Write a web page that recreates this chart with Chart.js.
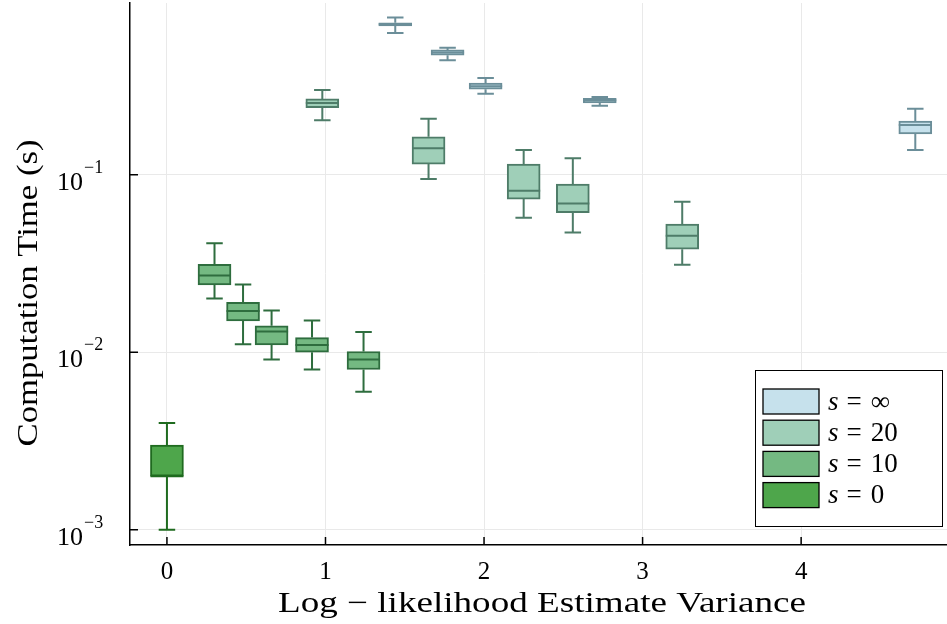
<!DOCTYPE html>
<html>
<head>
<meta charset="utf-8">
<script src="https://cdn.jsdelivr.net/npm/chart.js@4/dist/chart.umd.min.js"></script>
<style>
  html, body { margin: 0; padding: 0; background: #fff; }
  canvas { display: block; }
</style>
</head>
<body>
<canvas id="chart" width="947" height="624"></canvas>
<script>
// box plot data: x position, whisker low, q1, median, q3, whisker high
const labels = ['∞', '20', '10', '0'];

const xInf   = [1.44, 1.77, 2.01, 2.73, 4.72];
const loInf  = [0.63, 0.443, 0.286, 0.245, 0.138];
const q1Inf  = [0.69, 0.472, 0.304, 0.254, 0.170];
const medInf = [0.705, 0.49, 0.316, 0.263, 0.191];
const q3Inf  = [0.72, 0.506, 0.329, 0.270, 0.201];
const hiInf  = [0.77, 0.52, 0.351, 0.275, 0.236];

const x20   = [0.98, 1.65, 2.25, 2.56, 3.25];
const lo20  = [0.203, 0.0946, 0.0573, 0.0473, 0.0311];
const q120  = [0.239, 0.115, 0.073, 0.0613, 0.0381];
const med20 = [0.254, 0.141, 0.0813, 0.0689, 0.0453];
const q320  = [0.268, 0.164, 0.115, 0.0886, 0.0527];
const hi20  = [0.301, 0.207, 0.138, 0.124, 0.0705];

const x10   = [0.30, 0.48, 0.66, 0.915, 1.24];
const lo10  = [0.0201, 0.0111, 0.0091, 0.0080, 0.0060];
const q110  = [0.0240, 0.0150, 0.0110, 0.0100, 0.0080];
const med10 = [0.0271, 0.0171, 0.0131, 0.0110, 0.0091];
const q310  = [0.0313, 0.0191, 0.0141, 0.0121, 0.0101];
const hi10  = [0.0412, 0.0241, 0.0172, 0.0151, 0.0130];

const x0   = [0.0];
const lo0  = [0.001];
const q10  = [0.002];
const med0 = [0.002];
const q30  = [0.003];
const hi0  = [0.004];

const xTicks = [0, 1, 2, 3, 4];
const yTicks = [0.001, 0.01, 0.1];
const yExps  = ['−3', '−2', '−1'];

const series = [
  { label: labels[0], x: xInf, lo: loInf, q1: q1Inf, med: medInf, q3: q3Inf, hi: hiInf, fill: '#c6e1ec', edge: '#6b8e99' },
  { label: labels[1], x: x20,  lo: lo20,  q1: q120,  med: med20,  q3: q320,  hi: hi20,  fill: '#9fcfb8', edge: '#4e7c68' },
  { label: labels[2], x: x10,  lo: lo10,  q1: q110,  med: med10,  q3: q310,  hi: hi10,  fill: '#74b982', edge: '#2e6d3e' },
  { label: labels[3], x: x0,   lo: lo0,   q1: q10,   med: med0,   q3: q30,   hi: hi0,   fill: '#4ea64b', edge: '#1f6b1f' }
];

const SERIF = '"Liberation Serif", "DejaVu Serif", serif';
const BOX_W = 33;

// whiskers, caps and medians on top of the floating bars
const whiskers = {
  id: 'whiskers',
  afterDatasetsDraw(chart) {
    const { ctx, scales: { x, y } } = chart;
    series.forEach(s => {
      ctx.save();
      ctx.strokeStyle = s.edge;
      ctx.lineWidth = 2;
      s.x.forEach((v, i) => {
        const cx = x.getPixelForValue(v), half = BOX_W / 2, cap = BOX_W / 4;
        const pLo = y.getPixelForValue(s.lo[i]), pQ1 = y.getPixelForValue(s.q1[i]);
        const pMed = y.getPixelForValue(s.med[i]), pQ3 = y.getPixelForValue(s.q3[i]);
        const pHi = y.getPixelForValue(s.hi[i]);
        ctx.beginPath();
        ctx.moveTo(cx, pHi); ctx.lineTo(cx, pQ3);
        ctx.moveTo(cx, pQ1); ctx.lineTo(cx, pLo);
        ctx.moveTo(cx - cap, pHi); ctx.lineTo(cx + cap, pHi);
        ctx.moveTo(cx - cap, pLo); ctx.lineTo(cx + cap, pLo);
        ctx.moveTo(cx - half, pMed); ctx.lineTo(cx + half, pMed);
        ctx.stroke();
      });
      ctx.restore();
    });
  }
};

function fitText(ctx, text, cx, cy, width) {
  const w = ctx.measureText(text).width;
  ctx.save();
  ctx.translate(cx, cy);
  ctx.scale(width / w, 1);
  ctx.fillText(text, 0, 0);
  ctx.restore();
}

// inner tick marks, tick labels, axis titles and the legend box
const decorations = {
  id: 'decorations',
  afterDraw(chart) {
    const { ctx, chartArea: a, scales: { x, y } } = chart;
    ctx.save();
    ctx.strokeStyle = '#000';
    ctx.lineWidth = 1.5;
    ctx.beginPath();
    xTicks.forEach(v => { const px = x.getPixelForValue(v); ctx.moveTo(px, a.bottom); ctx.lineTo(px, a.bottom - 8); });
    yTicks.forEach(v => { const py = y.getPixelForValue(v); ctx.moveTo(a.left, py); ctx.lineTo(a.left + 8, py); });
    ctx.stroke();

    ctx.fillStyle = '#000';
    ctx.font = '25px ' + SERIF;
    ctx.textAlign = 'center';
    ctx.textBaseline = 'alphabetic';
    xTicks.forEach(v => ctx.fillText(String(v), x.getPixelForValue(v), 579));

    yTicks.forEach((v, i) => {
      const py = y.getPixelForValue(v);
      ctx.font = '26px ' + SERIF;
      ctx.textAlign = 'right';
      ctx.fillText('10', 83, py + 15);
      ctx.font = '18px ' + SERIF;
      ctx.textAlign = 'left';
      ctx.fillText(yExps[i], 84, py - 2);
    });

    ctx.font = '29px ' + SERIF;
    ctx.textAlign = 'center';
    fitText(ctx, 'Log − likelihood Estimate Variance', 542, 612, 528);
    ctx.save();
    ctx.translate(37, 293);
    ctx.rotate(-Math.PI / 2);
    fitText(ctx, 'Computation Time (s)', 0, 0, 307);
    ctx.restore();

    // legend
    const L = { left: 755, top: 370, w: 187, h: 156 };
    ctx.fillStyle = '#fff';
    ctx.fillRect(L.left, L.top, L.w, L.h);
    ctx.lineWidth = 1;
    ctx.strokeRect(L.left + 0.5, L.top + 0.5, L.w, L.h);
    series.forEach((s, i) => {
      const cy = 401.5 + i * 31.2;
      ctx.fillStyle = s.fill;
      ctx.fillRect(763, cy - 12.5, 56, 25);
      ctx.strokeStyle = '#000';
      ctx.lineWidth = 1.3;
      ctx.strokeRect(763, cy - 12.5, 56, 25);
      ctx.fillStyle = '#000';
      ctx.textAlign = 'left';
      ctx.textBaseline = 'middle';
      ctx.font = 'italic 27px ' + SERIF;
      ctx.fillText('s', 828, cy + 1);
      let px = 828 + ctx.measureText('s').width + 8;
      ctx.font = '27px ' + SERIF;
      ctx.fillText('=', px, cy + 1);
      px += ctx.measureText('=').width + 9;
      ctx.fillText(s.label, px, cy + 1);
    });
    ctx.restore();
  }
};

new Chart(document.getElementById('chart'), {
  type: 'bar',
  data: {
    datasets: series.map(s => ({
      label: 's = ' + s.label,
      data: s.x.map((v, i) => ({ x: v, y: [s.q1[i], s.q3[i]] })),
      backgroundColor: s.fill,
      borderColor: s.edge,
      borderWidth: 2,
      borderSkipped: false,
      barThickness: BOX_W,
      grouped: false
    }))
  },
  options: {
    responsive: false,
    animation: false,
    layout: { padding: { left: 130, top: 3, right: 0, bottom: 79 } },
    plugins: { legend: { display: false }, tooltip: { enabled: false } },
    scales: {
      x: {
        type: 'linear', min: -0.233, max: 4.92, offset: false,
        grid: { color: '#e9e9e9', drawTicks: false, offset: false },
        border: { color: '#000', width: 1.5 },
        ticks: { display: false },
        afterBuildTicks: ax => { ax.ticks = xTicks.map(v => ({ value: v })); }
      },
      y: {
        type: 'logarithmic', min: 0.00082, max: 0.93,
        grid: { color: '#e9e9e9', drawTicks: false },
        border: { color: '#000', width: 1.5 },
        ticks: { display: false },
        afterBuildTicks: ax => { ax.ticks = yTicks.map(v => ({ value: v })); }
      }
    }
  },
  plugins: [whiskers, decorations]
});
</script>
</body>
</html>
